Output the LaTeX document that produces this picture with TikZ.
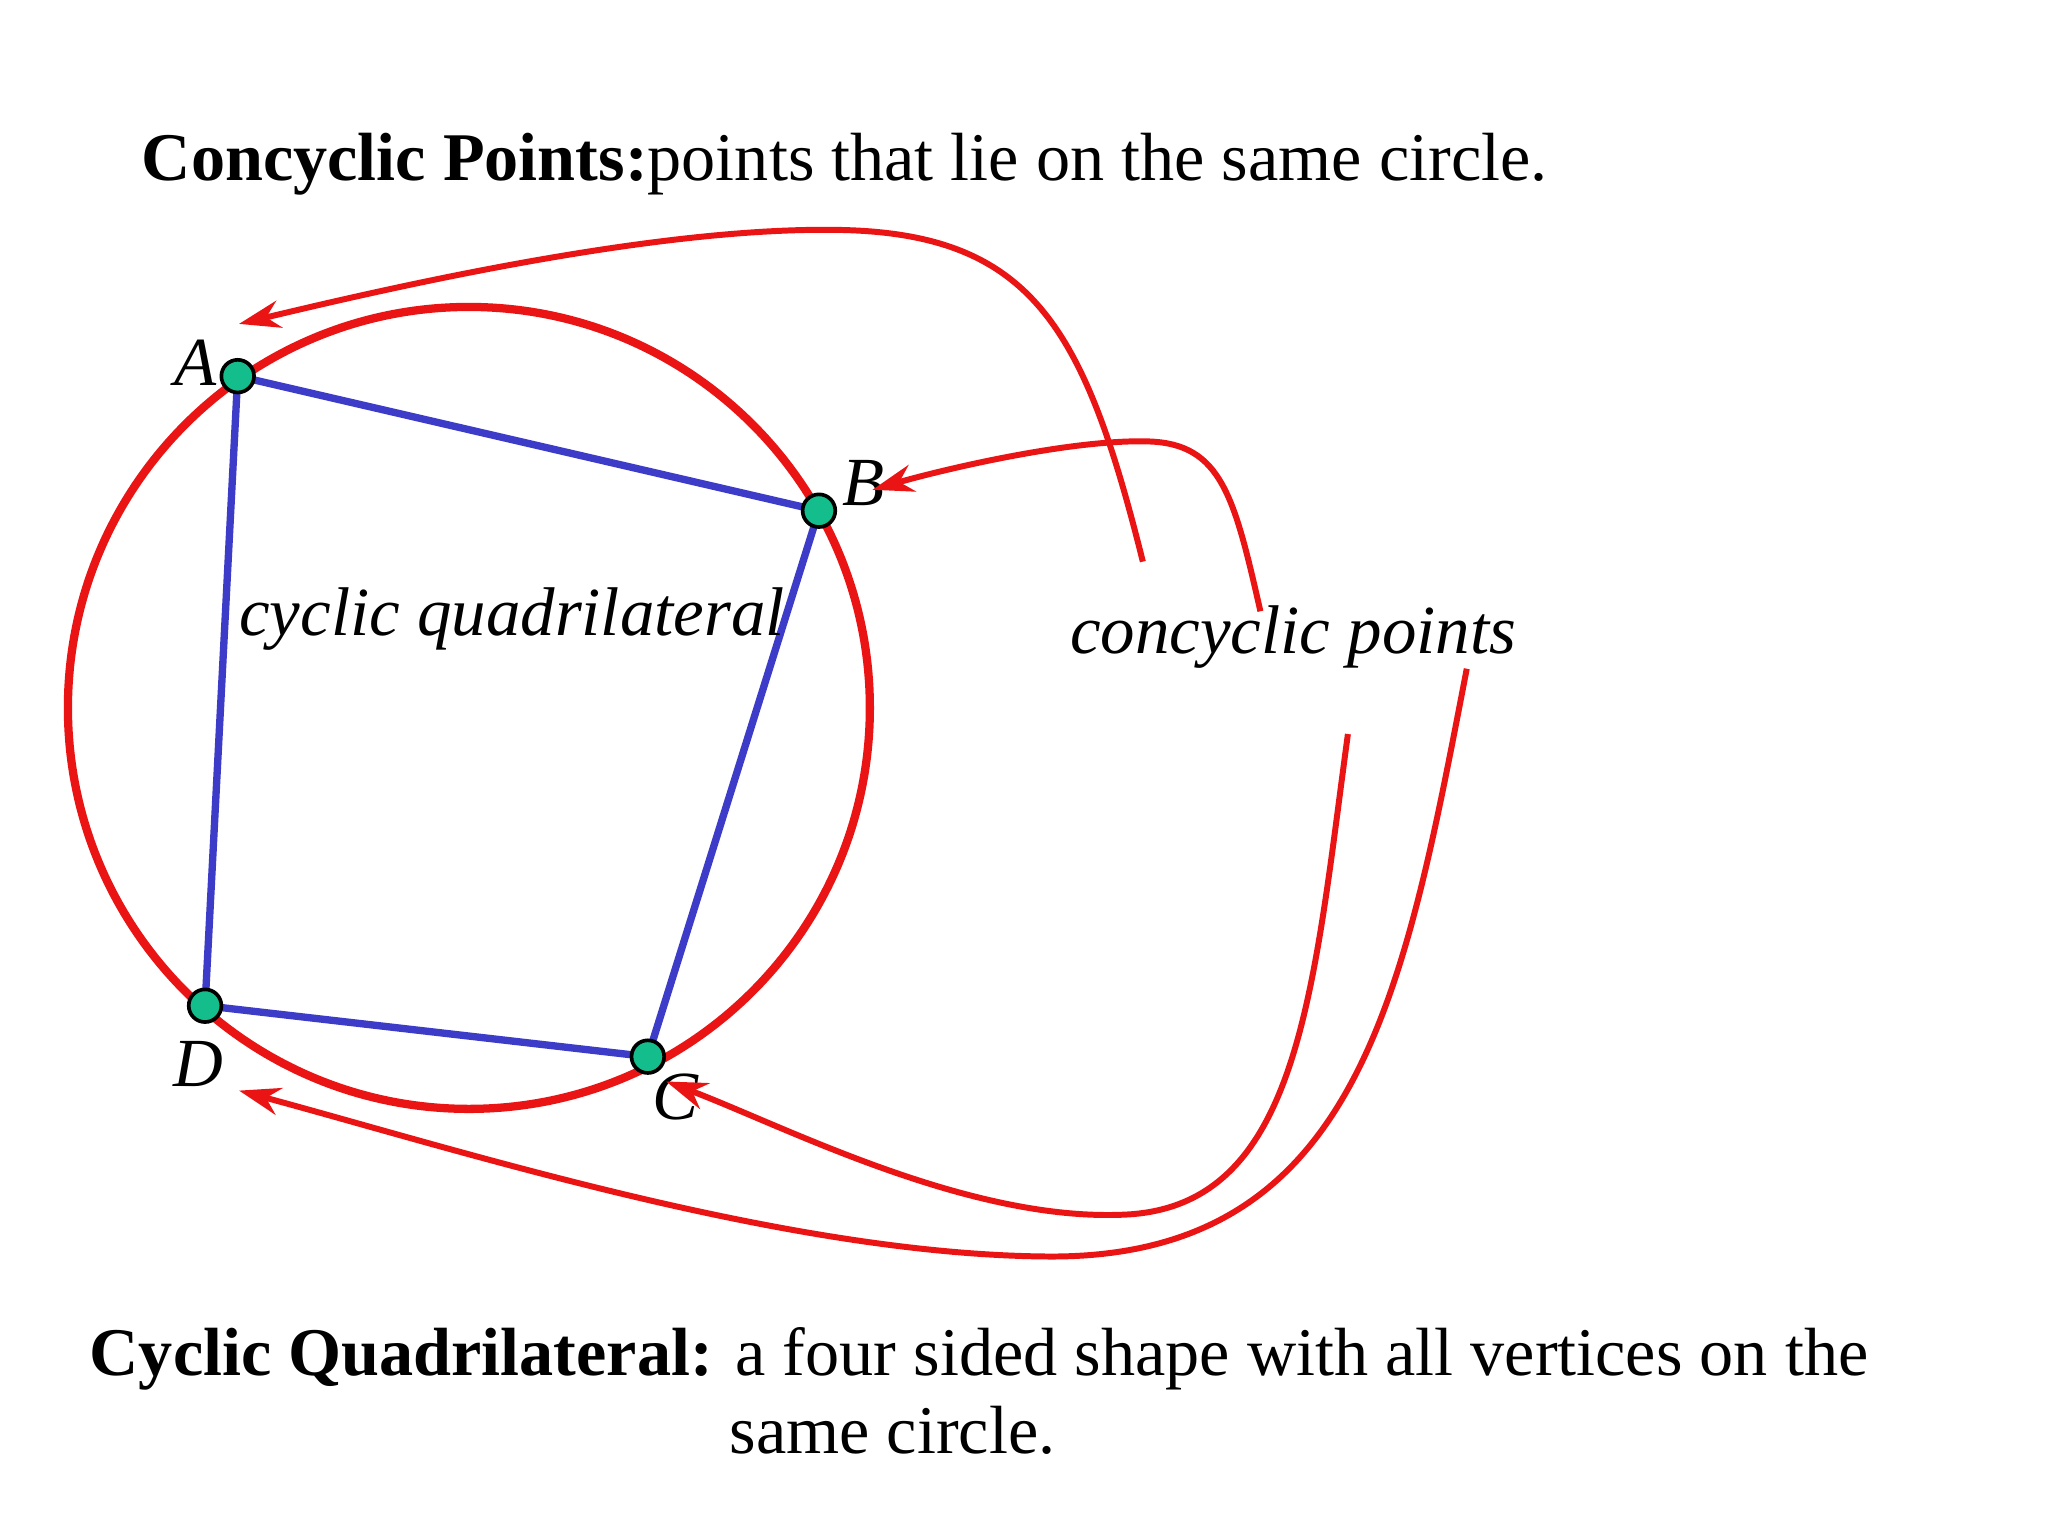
\documentclass[tikz,border=0pt]{standalone}
\usepackage{fontspec}
\setmainfont{Liberation Serif}
\usetikzlibrary{arrows.meta}
\definecolor{myred}{RGB}{235,20,20}
\definecolor{myblue}{RGB}{60,60,200}
\definecolor{mygreen}{RGB}{20,190,140}
\tikzset{
 redarr/.style={draw=myred,line width=1.3pt,-{Stealth[length=9pt,width=6pt]}},
 dot/.style={circle,draw=black,fill=mygreen,minimum size=0.25cm,inner sep=0pt,line width=0.8pt},
 lab/.style={font=\fontsize{15}{18}\selectfont\itshape},
 txt/.style={font=\fontsize{14.85}{17}\selectfont,inner sep=0pt}
}
\begin{document}
\begin{tikzpicture}[x=0.01cm,y=-0.01cm]
\useasboundingbox[fill=white] (0,0) rectangle (1568,1176);
\node[txt,anchor=base west] (t1) at (108,138) {\textbf{Concyclic Points:}points that lie on the same circle.};
\node[txt,anchor=base west] (t2) at (68,1053) {\textbf{Cyclic Quadrilateral:} a four sided shape with all vertices on the};
\node[txt,anchor=base west] (t3) at (558,1113) {same circle.};
\draw[myred,line width=1.8pt] (359,542) circle (307);
\coordinate (A) at (182,288);
\coordinate (B) at (627,391);
\coordinate (C) at (496,809);
\coordinate (D) at (157,770);
\draw[myblue,line width=1.6pt] (A)--(B)--(C)--(D)--cycle;
\foreach \p in {A,B,C,D} \node[dot] (d\p) at (\p) {};
\node[lab] (lA) at (150,278) {A};
\node[lab] (lB) at (661,370) {B};
\node[lab] (lC) at (517,840) {C};
\node[lab] (lD) at (152,815) {D};
\node[lab] (cq) at (392,474) {cyclic quadrilateral};
\node[lab] (cp) at (990,488) {concyclic points};
\coordinate (s1) at (875,430);
\coordinate (s2) at (965,468);
\coordinate (s3) at (1032,562);
\coordinate (s4) at (1123,512);
\coordinate (eA) at (183,248);
\coordinate (eB) at (668,375);
\coordinate (eC) at (510,828);
\coordinate (eD) at (183,835);
\draw[redarr] (s1) .. controls (830,250) and (790,178) .. (640,176) .. controls (500,174) and (300,220) .. (eA);
\draw[redarr] (s2) .. controls (945,380) and (935,340) .. (880,338) .. controls (820,336) and (720,360) .. (eB);
\draw[redarr] (s3) .. controls (1005,760) and (995,925) .. (860,930) .. controls (740,935) and (600,862) .. (eC);
\draw[redarr] (s4) .. controls (1075,760) and (1040,965) .. (800,962) .. controls (600,960) and (350,880) .. (eD);
\end{tikzpicture}
\end{document}
